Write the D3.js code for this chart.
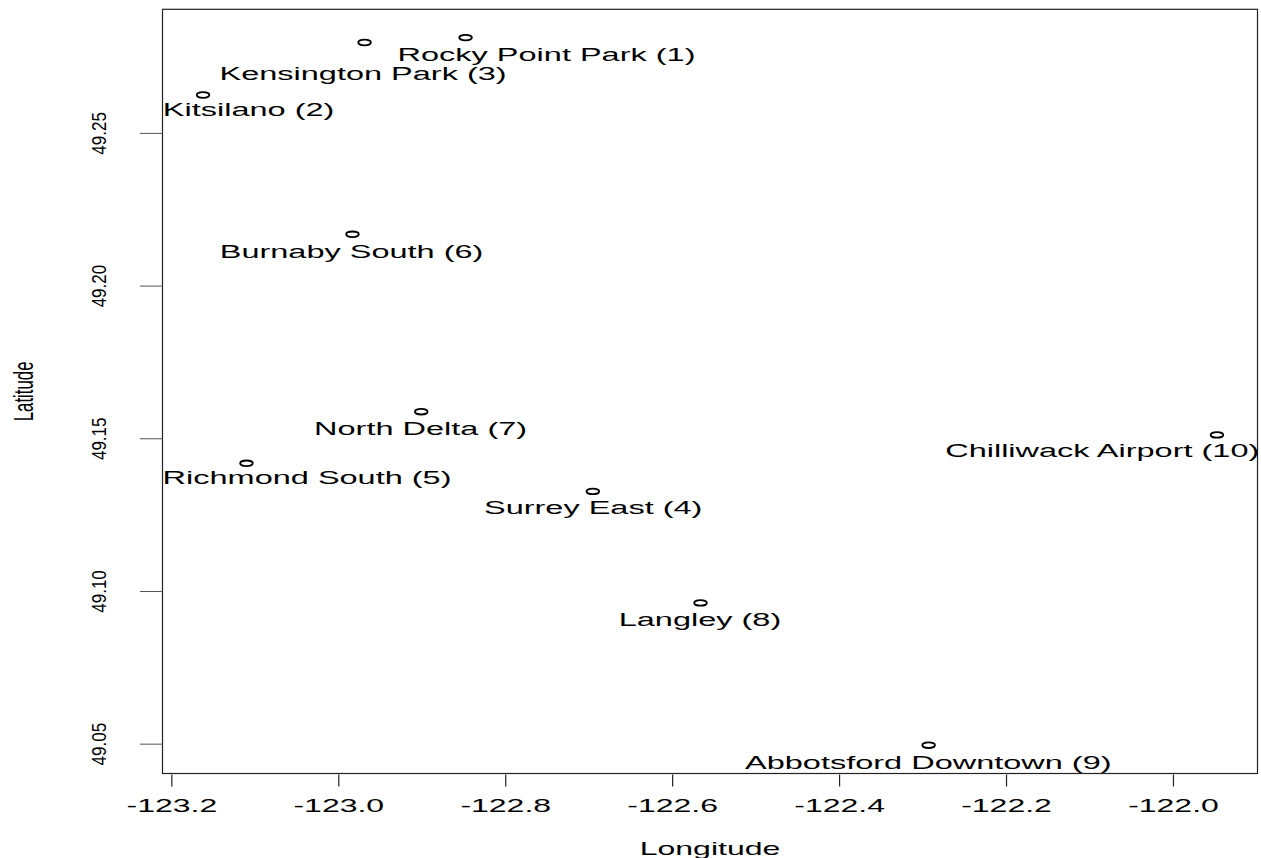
<!DOCTYPE html>
<html>
<head>
<meta charset="utf-8">
<script src="https://cdn.jsdelivr.net/npm/d3@7"></script>
<style>
  html, body { margin: 0; padding: 0; background: #fff; }
  svg { display: block; }
  text { font-family: "Liberation Sans", Arial, sans-serif; fill: #000; }
</style>
</head>
<body>
<svg id="chart" width="1261" height="858"></svg>
<script>
// ---- data ----
const stations = ["Rocky Point Park (1)", "Kitsilano (2)", "Kensington Park (3)", "Surrey East (4)",
  "Richmond South (5)", "Burnaby South (6)", "North Delta (7)", "Langley (8)",
  "Abbotsford Downtown (9)", "Chilliwack Airport (10)"];
const longitude = [-122.8475, -123.162, -122.9685, -122.695, -123.110, -122.983, -122.9006, -122.566, -122.2927, -121.9473];
const latitude  = [49.2812, 49.2624, 49.2796, 49.1326, 49.1418, 49.2168, 49.1587, 49.0961, 49.0495, 49.1511];
// label anchor positions (as placed in the reference, in lon/lat)
const labelLon = [-122.7505, -123.1074, -122.9703, -122.6946, -123.0374, -122.9841, -122.9014, -122.5667, -122.2931, -122.0847];
const labelLat = [49.2759, 49.2576, 49.2694, 49.1274, 49.1371, 49.2114, 49.1534, 49.0909, 49.0440, 49.1462];
const xTicks = [-123.2, -123.0, -122.8, -122.6, -122.4, -122.2, -122.0];
const yTicks = [49.05, 49.10, 49.15, 49.20, 49.25];
const xTitle = "Longitude";
const yTitle = "Latitude";

// ---- layout ----
const L = 162.5, R = 1257.5, T = 9.3, B = 773.5;
const svg = d3.select("#chart");

const lonExt = d3.extent(longitude), latExt = d3.extent(latitude);
const dLon = lonExt[1] - lonExt[0], dLat = latExt[1] - latExt[0];
const x = d3.scaleLinear().domain([lonExt[0] - 0.04 * dLon, lonExt[1] + 0.04 * dLon]).range([L, R]);
const y = d3.scaleLinear().domain([latExt[0] - 0.04 * dLat, latExt[1] + 0.04 * dLat]).range([B, T]);

// box
svg.append("rect").attr("x", L).attr("y", T).attr("width", R - L).attr("height", B - T)
  .attr("fill", "none").attr("stroke", "#222").attr("stroke-width", 1.2);

// x axis
const xAxis = svg.append("g").attr("transform", `translate(0,${B + 1})`)
  .call(d3.axisBottom(x).tickValues(xTicks).tickFormat(d => d.toFixed(1)).tickSize(12).tickSizeOuter(0));
xAxis.select(".domain").remove();
xAxis.selectAll(".tick line").attr("stroke", "#222").attr("stroke-width", 1.2);
xAxis.selectAll(".tick text")
  .attr("y", null).attr("dy", null)
  .attr("transform", "translate(0,37.2) scale(1.72,1)")
  .style("font-size", "18.6px").attr("text-anchor", "middle").attr("fill", "#000");

// y axis
const yAxis = svg.append("g").attr("transform", `translate(${L},0)`)
  .call(d3.axisLeft(y).tickValues(yTicks).tickFormat(d => d.toFixed(2)).tickSize(22.5).tickSizeOuter(0));
yAxis.select(".domain").remove();
yAxis.selectAll(".tick line").attr("stroke", "#555").attr("stroke-width", 1);
yAxis.selectAll(".tick text")
  .attr("x", null).attr("dy", null)
  .attr("transform", "translate(-56.5,0) rotate(-90) scale(0.85,1)")
  .style("font-size", "20px").attr("text-anchor", "middle").attr("fill", "#111");

// axis titles
svg.append("text").attr("transform", `translate(${(L + R) / 2},855) scale(1.72,1)`)
  .attr("text-anchor", "middle").style("font-size", "18.6px").text(xTitle);
svg.append("text").attr("transform", `translate(33.3,${(T + B) / 2}) rotate(-90) scale(0.6,1)`)
  .attr("text-anchor", "middle").style("font-size", "28px").text(yTitle);

// points
const idx = d3.range(stations.length);
svg.append("g").selectAll("ellipse").data(idx).join("ellipse")
  .attr("cx", i => x(longitude[i])).attr("cy", i => y(latitude[i]))
  .attr("rx", 6.3).attr("ry", 2.8)
  .attr("fill", "none").attr("stroke", "#000").attr("stroke-width", 1.8);

// labels
svg.append("g").selectAll("text").data(idx).join("text")
  .attr("transform", i => `translate(${x(labelLon[i])},${y(labelLat[i]) + 6.8}) scale(1.71,1)`)
  .attr("text-anchor", "middle").style("font-size", "19px")
  .text(i => stations[i]);
</script>
</body>
</html>
